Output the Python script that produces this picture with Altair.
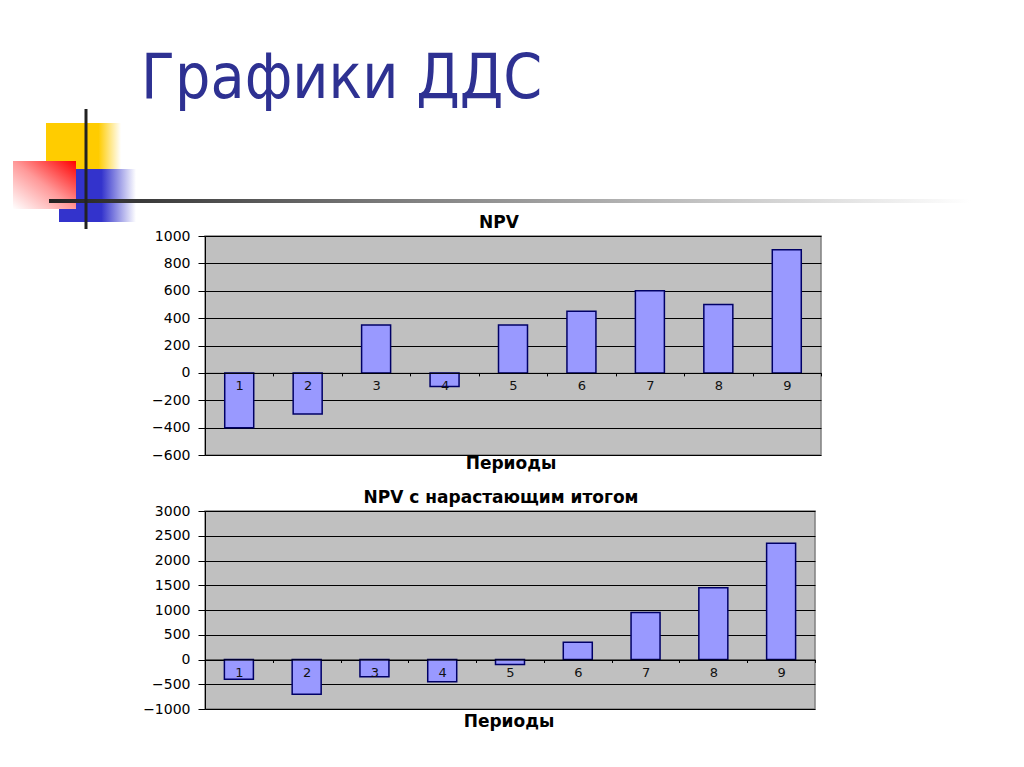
import altair as alt
import pandas as pd

# slide data
periods = [1, 2, 3, 4, 5, 6, 7, 8, 9]
npv = [-400, -300, 350, -100, 350, 450, 600, 500, 900]
npv_cum = [-400, -700, -350, -450, -100, 350, 950, 1450, 2350]

npv_ticks = [-600, -400, -200, 0, 200, 400, 600, 800, 1000]
cum_ticks = [-1000, -500, 0, 500, 1000, 1500, 2000, 2500, 3000]

slide_title = "Графики ДДС"
top_title = "NPV"
bottom_title = "NPV с нарастающим итогом"
x_title = "Периоды"

BAR = "#9999FF"
EDGE = "#000066"
NAVY = "#2E3192"
LABEL_FONT = "DejaVu Sans"

one = pd.DataFrame({"k": [0]})


def rect(x, x2, y, y2, fill):
    return alt.Chart(one).mark_rect(fill=fill).encode(
        x=alt.value(x), x2=alt.value(x2), y=alt.value(y), y2=alt.value(y2)
    )


def label(text, x, y, size=17, **kw):
    return alt.Chart(one).mark_text(
        text=text, font=LABEL_FONT, fontSize=size, fontWeight="bold",
        color="black", baseline="middle", **kw
    ).encode(x=alt.value(x), y=alt.value(y))


def bars(values, ticks, w, h):
    df = pd.DataFrame({"period": periods, "value": values})
    # move the category axis up to the zero line
    zero_off = -(h - h * ticks[-1] / (ticks[-1] - ticks[0]))
    return alt.Chart(df).mark_bar(
        width=29, fill=BAR, stroke=EDGE, strokeWidth=1.5
    ).encode(
        x=alt.X(
            "period:O",
            scale=alt.Scale(paddingInner=0, paddingOuter=0),
            axis=alt.Axis(
                title=None, labelAngle=0, offset=zero_off, tickBand="extent",
                tickSize=3, labelPadding=4, labelFontSize=13, labelFont=LABEL_FONT,
                labelColor="#111", domainColor="black", tickColor="black",
                grid=False, zindex=1,
            ),
        ),
        y=alt.Y(
            "value:Q",
            scale=alt.Scale(domain=[ticks[0], ticks[-1]], nice=False, zero=False),
            axis=alt.Axis(
                title=None, values=ticks, format="d", tickSize=7, labelPadding=8,
                labelFontSize=14, labelFont=LABEL_FONT, labelColor="black",
                domainColor="black", tickColor="black", gridColor="black",
                gridOpacity=1, zindex=0,
            ),
        ),
    ).properties(width=w, height=h)


# top panel: plot area at page (204, 235); decoration placed relative to it
W1, H1 = 616, 219
anchor1 = rect(-196, -195, -227, 239, "white")
yellow = rect(-159, -84, -113, -55, alt.Gradient(
    gradient="linear", x1=0, y1=0, x2=1, y2=0,
    stops=[alt.GradientStop(color="#FFCC00", offset=0),
           alt.GradientStop(color="#FFCC00", offset=0.7),
           alt.GradientStop(color="#FFFFFF", offset=1)]))
blue = rect(-146, -69, -67, -14, alt.Gradient(
    gradient="linear", x1=0, y1=0, x2=1, y2=0,
    stops=[alt.GradientStop(color="#3333CC", offset=0),
           alt.GradientStop(color="#3333CC", offset=0.55),
           alt.GradientStop(color="#FFFFFF", offset=1)]))
red = rect(-192, -129, -75, -27, alt.Gradient(
    gradient="linear", x1=1, y1=0, x2=0, y2=1,
    stops=[alt.GradientStop(color="#FF0000", offset=0),
           alt.GradientStop(color="#FF9999", offset=0.5),
           alt.GradientStop(color="#FFFFFF", offset=1)]))
hline = rect(-156, 766, -37, -33, alt.Gradient(
    gradient="linear", x1=0, y1=0, x2=1, y2=0,
    stops=[alt.GradientStop(color="#222222", offset=0),
           alt.GradientStop(color="#777777", offset=0.35),
           alt.GradientStop(color="#CCCCCC", offset=0.75),
           alt.GradientStop(color="#FFFFFF", offset=1)]))
vline = alt.Chart(one).mark_rule(color="#222222", strokeWidth=3).encode(
    x=alt.value(-119), y=alt.value(-127), y2=alt.value(-7)
)
heading = alt.Chart(one).mark_text(
    text=slide_title, font="Liberation Sans Narrow, DejaVu Sans Condensed",
    fontSize=62, color=NAVY, align="left", baseline="alphabetic"
).encode(x=alt.value(-64), y=alt.value(-138))

top = alt.layer(
    anchor1, yellow, blue, red, hline, vline, heading,
    bars(npv, npv_ticks, W1, H1),
    label(top_title, 294, -13),
    label(x_title, 306, 228),
).properties(width=W1, height=H1)

# bottom panel: plot area at page (204, 508)
W2, H2 = 610, 198
anchor2 = rect(-196, -195, -34, -33, "white")
bottom = alt.layer(
    anchor2,
    bars(npv_cum, cum_ticks, W2, H2),
    label(bottom_title, 296, -13),
    label(x_title, 304, 211),
).properties(width=W2, height=H2)

chart = (
    alt.vconcat(top, bottom, spacing=0)
    .properties(padding=0)
    .configure_view(fill="#C0C0C0", stroke="#808080", strokeWidth=1.5)
)

chart.save("out.html", embed_options={"renderer": "svg", "actions": False})
